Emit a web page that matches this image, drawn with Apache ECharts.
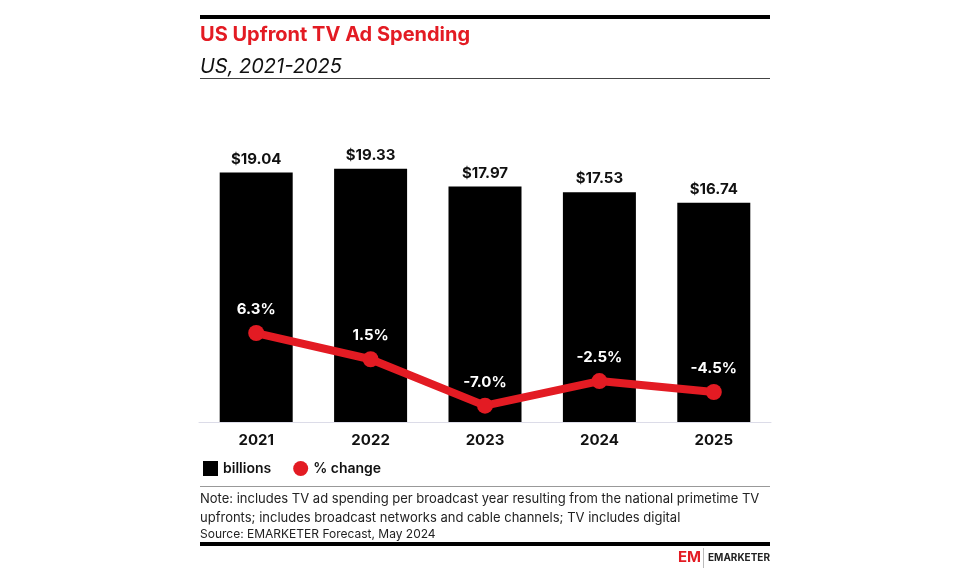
<!DOCTYPE html>
<html>
<head>
<meta charset="utf-8">
<script src="https://cdn.jsdelivr.net/npm/echarts@6/dist/echarts.min.js"></script>
<style>
  html, body { margin: 0; padding: 0; background: #fff; }
  #chart { width: 969px; height: 579px; }
</style>
</head>
<body>
<div id="chart"></div>
<script>
// data
var years = ['2021', '2022', '2023', '2024', '2025'];
var spending = [19.04, 19.33, 17.97, 17.53, 16.74];   // billions
var pctChange = [6.3, 1.5, -7.0, -2.5, -4.5];          // % change

var RED = '#e31b23';
var FONT = 'Inter, Roboto, sans-serif';

var chart = echarts.init(document.getElementById('chart'));

var option = {
  backgroundColor: '#fff',
  animation: false,
  textStyle: { fontFamily: FONT },
  title: [
    {
      text: 'US Upfront TV Ad Spending',
      left: 200, top: 25, padding: 0,
      textStyle: { color: RED, fontSize: 20, fontWeight: 'bold', fontFamily: FONT }
    },
    {
      text: 'US, 2021-2025',
      left: 200, top: 57, padding: 0,
      textStyle: { color: '#111', fontSize: 20, fontStyle: 'italic', fontWeight: 'normal', fontFamily: FONT }
    }
  ],
  legend: {
    left: 203, top: 461, padding: 0,
    itemWidth: 15, itemHeight: 15,
    itemGap: 22,
    textStyle: { color: '#111', fontSize: 14, fontWeight: 600, fontFamily: FONT },
    data: [
      { name: 'billions', icon: 'rect' },
      { name: '% change', icon: 'circle' }
    ]
  },
  grid: { left: 199, right: 198, top: 94.5, bottom: 157, containLabel: false },
  xAxis: {
    type: 'category',
    data: years,
    axisLine: { lineStyle: { color: '#dcdce8', width: 1 } },
    axisTick: { show: false },
    axisLabel: { color: '#111', fontSize: 15, fontWeight: 'bold', margin: 11, fontFamily: FONT }
  },
  yAxis: [
    { type: 'value', min: 0, max: 25, show: false, splitLine: { show: false } },
    { type: 'value', min: -10, max: 50, show: false, splitLine: { show: false } }
  ],
  series: [
    {
      name: 'billions',
      type: 'bar',
      data: spending,
      barWidth: 73,
      itemStyle: { color: '#000' },
      label: {
        show: true, position: 'top', distance: 6,
        color: '#111', fontSize: 15, fontWeight: 'bold', fontFamily: FONT,
        formatter: function (p) { return '$' + p.value.toFixed(2); }
      }
    },
    {
      name: '% change',
      type: 'line',
      yAxisIndex: 1,
      data: pctChange,
      symbol: 'circle',
      symbolSize: 16,
      lineStyle: { color: RED, width: 8 },
      itemStyle: { color: RED },
      label: {
        show: true, position: 'top', distance: 8,
        color: '#fff', fontSize: 15, fontWeight: 'bold', fontFamily: FONT,
        formatter: function (p) { return p.value.toFixed(1) + '%'; }
      },
      z: 3
    }
  ],
  graphic: [
    // top thick rule
    { type: 'rect', shape: { x: 200, y: 15, width: 570, height: 4 }, style: { fill: '#000' } },
    // rule under subtitle
    { type: 'rect', shape: { x: 200, y: 78, width: 570, height: 1 }, style: { fill: '#444' } },
    // rule above note
    { type: 'rect', shape: { x: 200, y: 486, width: 570, height: 1 }, style: { fill: '#999' } },
    // notes
    {
      type: 'text', left: 200, top: 490,
      style: {
        text: 'Note: includes TV ad spending per broadcast year resulting from the national primetime TV\nupfronts; includes broadcast networks and cable channels; TV includes digital',
        fill: '#222', font: '13px ' + FONT, lineHeight: 19
      }
    },
    {
      type: 'text', left: 200, top: 528,
      style: { text: 'Source: EMARKETER Forecast, May 2024', fill: '#222', font: '12px ' + FONT }
    },
    // bottom thick rule
    { type: 'rect', shape: { x: 200, y: 542, width: 570, height: 4 }, style: { fill: '#000' } },
    // logo
    {
      type: 'text', left: 678, top: 550,
      style: { text: 'EM', fill: RED, font: 'bold 15px ' + FONT }
    },
    { type: 'rect', shape: { x: 703, y: 548, width: 1, height: 20 }, style: { fill: '#bbb' } },
    {
      type: 'text', left: 708, top: 553,
      style: { text: 'EMARKETER', fill: '#222', font: 'bold 10px ' + FONT }
    }
  ]
};

chart.setOption(option);
</script>
</body>
</html>
